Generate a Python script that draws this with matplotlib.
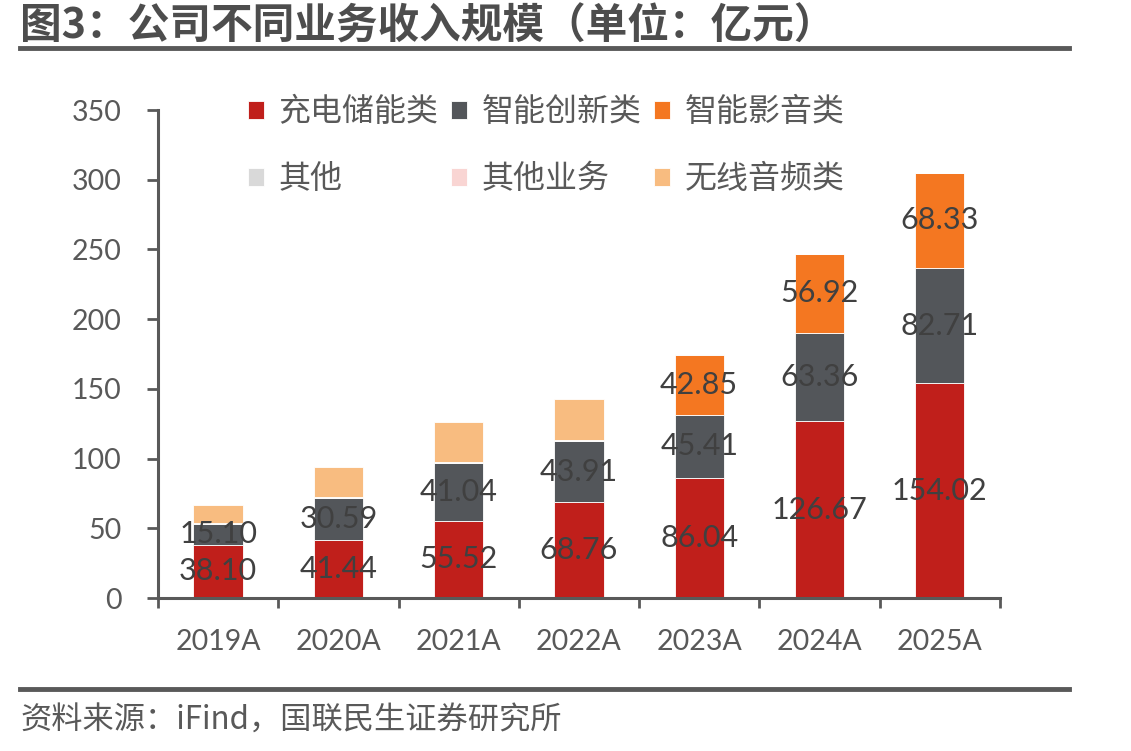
import matplotlib
matplotlib.use("Agg")
import matplotlib.pyplot as plt
import numpy as np

plt.rcParams['font.family'] = ['Noto Sans CJK SC', 'DejaVu Sans']

# data (亿元)
years = ['2019A', '2020A', '2021A', '2022A', '2023A', '2024A', '2025A']
charging = [38.10, 41.44, 55.52, 68.76, 86.04, 126.67, 154.02]
innovation = [15.10, 30.59, 41.04, 43.91, 45.41, 63.36, 82.71]
audio_video = [0, 0, 0, 0, 42.85, 56.92, 68.33]
other = [0.5, 0.4, 1.0, 1.0, 1.0, 0, 0]
other_biz = [0, 0, 0, 0, 0, 0, 0]
wireless = [12.8, 21.5, 28.5, 29.0, 0, 0, 0]

series = ['充电储能类', '智能创新类', '智能影音类', '其他', '其他业务', '无线音频类']
colors = ['#C01F1B', '#53565A', '#F47721', '#D9D9D9', '#F9D5D3', '#F8BC80']
values = [charging, innovation, audio_video, other, other_biz, wireless]
labelled = [True, True, True, False, False, False]

txt = '#595959'
fig = plt.figure(figsize=(11.31, 7.51), dpi=100)
ax = fig.add_axes([0.1397, 0.2037, 0.7443, 0.6498])

x = np.arange(len(years))
bottom = np.zeros(len(years))
handles = []
for name, col, vals, lab in zip(series, colors, values, labelled):
    vals = np.array(vals)
    b = ax.bar(x, vals, 0.41, bottom=bottom, color=col, edgecolor='white',
               linewidth=0.6, label=name)
    handles.append(b)
    if lab:
        for xi, v, bt in zip(x, vals, bottom):
            if v > 0:
                ax.text(xi, bt + v / 2, '%.2f' % v, ha='center', va='center',
                        fontsize=22, color='#404040', family=['Lato', 'DejaVu Sans'])
    bottom = bottom + vals

ax.set_xlim(-0.5, len(years) - 0.5)
ax.set_ylim(0, 350)
ax.set_yticks(range(0, 351, 50))
ax.set_xticks(x)
ax.set_xticklabels(years)
ax.set_xticks(np.arange(-0.5, len(years)), minor=True)
ax.tick_params(axis='x', which='major', length=0, pad=22)
ax.tick_params(axis='x', which='minor', length=7, width=2, color=txt, direction='out')
ax.tick_params(axis='y', length=8, width=2, color=txt, pad=18)
for lbl in ax.get_xticklabels() + ax.get_yticklabels():
    lbl.set_family(['Lato', 'DejaVu Sans'])
    lbl.set_fontsize(20.5)
    lbl.set_color(txt)
for s in ['top', 'right']:
    ax.spines[s].set_visible(False)
for s in ['left', 'bottom']:
    ax.spines[s].set_color(txt)
    ax.spines[s].set_linewidth(2.2)

# legend: 3 columns, row-wise order
order = [0, 3, 1, 4, 2, 5]
leg = ax.legend([handles[i] for i in order], [series[i] for i in order],
                ncol=3, loc='upper left', bbox_to_anchor=(0.073, 1.087),
                frameon=False, fontsize=23, handlelength=0.5, handleheight=0.5,
                handletextpad=0.45, columnspacing=0.4, labelspacing=1.1)
for t in leg.get_texts():
    t.set_color(txt)

# title, rules, source
fig.text(0.018, 0.965, '图3：公司不同业务收入规模（单位：亿元）', fontsize=30,
         fontweight='bold', color='#4D4D4D', va='center')
fig.add_artist(plt.Line2D([0.018, 0.945], [0.936, 0.936], color='#595959', lw=3.5))
fig.add_artist(plt.Line2D([0.018, 0.945], [0.083, 0.083], color='#595959', lw=3.5))
fig.text(0.018, 0.04, '资料来源：iFind，国联民生证券研究所', fontsize=22.5,
         color='#595959', va='center')

fig.savefig('out.png', dpi=100)
